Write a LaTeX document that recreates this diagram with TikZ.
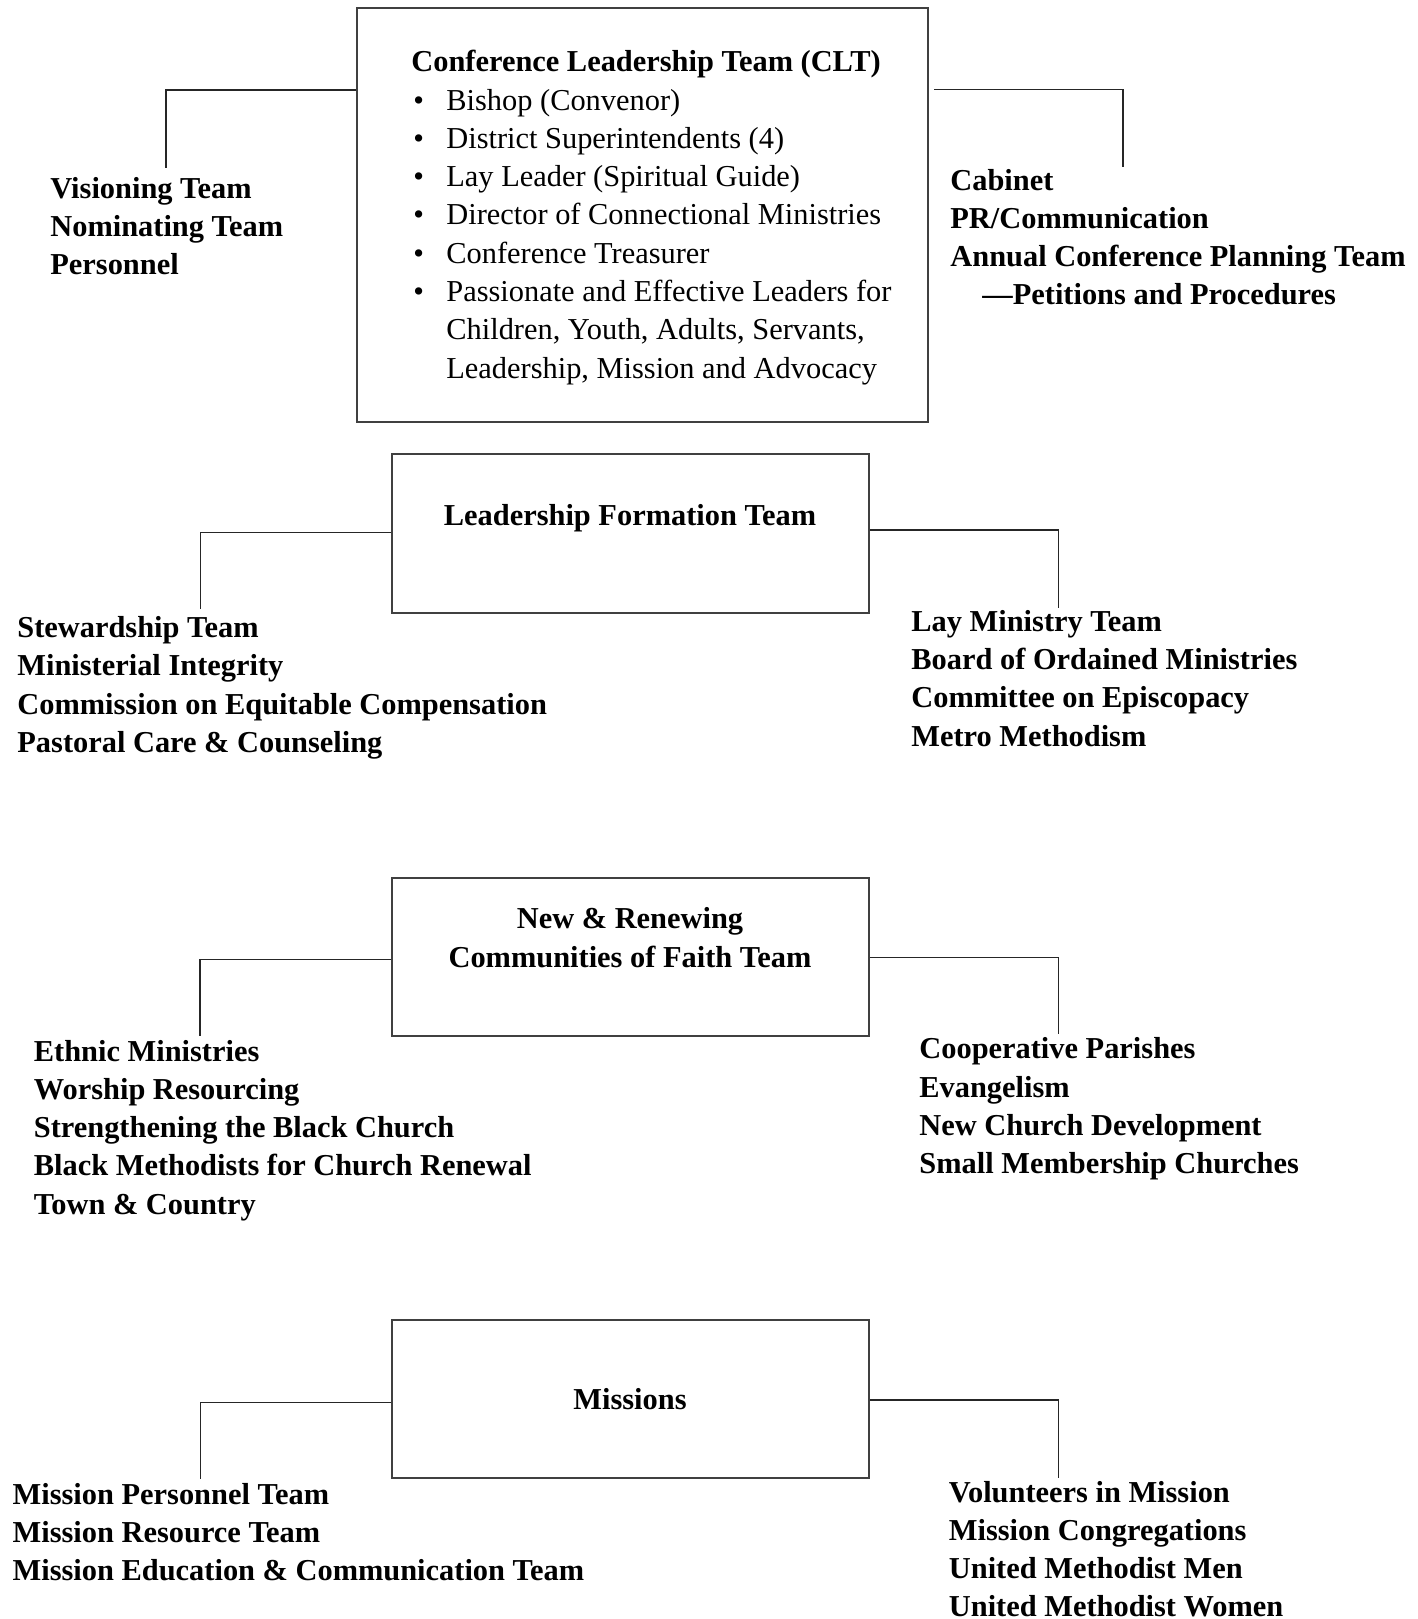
\documentclass[tikz,border=0pt]{standalone}
\usepackage{fontspec}
\setmainfont{Liberation Serif}
\begin{document}
\begin{tikzpicture}[x=0.5pt,y=-0.5pt,
  box/.style={draw=black!75,line width=1pt,inner sep=0pt,anchor=north west,minimum width=238.5pt,minimum height=79.2pt},
  conn/.style={draw=black!85,line width=0.75pt},
  lst/.style={inner sep=0pt,anchor=base west,font=\fontsize{15.2}{19.15}\selectfont\bfseries},
  body/.style={inner sep=0pt,anchor=base west,font=\fontsize{15.2}{19.15}\selectfont},
  ttl/.style={inner sep=0pt,anchor=base,font=\fontsize{15.2}{19.15}\selectfont\bfseries}]
\useasboundingbox[fill=white] (0,0) rectangle (1418,1619);

% ---------- boxes ----------
\node[box,minimum width=285.5pt,minimum height=207.2pt] (b1) at (356,7) {};
\node[box] (b2) at (391,453.3) {};
\node[box] (b3) at (391,876.5) {};
\node[box] (b4) at (391,1319) {};

% ---------- box contents ----------
\node[body] (t1) at (411,71.7) {\begin{tabular}[t]{@{}l@{}l@{}}
\multicolumn{2}{@{}l@{}}{\bfseries Conference Leadership Team (CLT)}\\
\makebox[17.5pt][l]{\hspace{1pt}\textbullet} & Bishop (Convenor)\\
\makebox[17.5pt][l]{\hspace{1pt}\textbullet} & District Superintendents (4)\\
\makebox[17.5pt][l]{\hspace{1pt}\textbullet} & Lay Leader (Spiritual Guide)\\
\makebox[17.5pt][l]{\hspace{1pt}\textbullet} & Director of Connectional Ministries\\
\makebox[17.5pt][l]{\hspace{1pt}\textbullet} & Conference Treasurer\\
\makebox[17.5pt][l]{\hspace{1pt}\textbullet} & Passionate and Effective Leaders for\\
 & Children, Youth, Adults, Servants,\\
 & Leadership, Mission and Advocacy
\end{tabular}};
\node[ttl] (t2) at (630,525) {Leadership Formation Team};
\node[ttl] (t3) at (630,928.7) {\begin{tabular}[t]{@{}c@{}}New \& Renewing\\Communities of Faith Team\end{tabular}};
\node[ttl] (t4) at (630,1409) {Missions};

% ---------- side lists ----------
\node[lst] (l1) at (50,198.3) {\begin{tabular}[t]{@{}l@{}}Visioning Team\\Nominating Team\\Personnel\end{tabular}};
\node[lst] (r1) at (950,190) {\begin{tabular}[t]{@{}l@{}}Cabinet\\PR/Communication\\Annual Conference Planning Team\\\hspace*{16pt}—Petitions and Procedures\end{tabular}};

\node[lst] (l2) at (17,637.5) {\begin{tabular}[t]{@{}l@{}}Stewardship Team\\Ministerial Integrity\\Commission on Equitable Compensation\\Pastoral Care \& Counseling\end{tabular}};
\node[lst] (r2) at (911,631.2) {\begin{tabular}[t]{@{}l@{}}Lay Ministry Team\\Board of Ordained Ministries\\Committee on Episcopacy\\Metro Methodism\end{tabular}};

\node[lst] (l3) at (33.5,1061) {\begin{tabular}[t]{@{}l@{}}Ethnic Ministries\\Worship Resourcing\\Strengthening the Black Church\\Black Methodists for Church Renewal\\Town \& Country\end{tabular}};
\node[lst] (r3) at (919,1058.8) {\begin{tabular}[t]{@{}l@{}}Cooperative Parishes\\Evangelism\\New Church Development\\Small Membership Churches\end{tabular}};

\node[lst] (l4) at (12.3,1504) {\begin{tabular}[t]{@{}l@{}}Mission Personnel Team\\Mission Resource Team\\Mission Education \& Communication Team\end{tabular}};
\node[lst] (r4) at (948.5,1502) {\begin{tabular}[t]{@{}l@{}}Volunteers in Mission\\Mission Congregations\\United Methodist Men\\United Methodist Women\end{tabular}};

% ---------- connectors ----------
\coordinate (k1l) at (166,90);      \coordinate (e1l) at (166,168);
\coordinate (k1r) at (1123,89.3);   \coordinate (e1r) at (1123,167.3);
\coordinate (k2l) at (200.3,532.7); \coordinate (e2l) at (200.3,609.3);
\coordinate (k2r) at (1058.5,530);  \coordinate (e2r) at (1058.5,607.7);
\coordinate (k3l) at (200,959.3);   \coordinate (e3l) at (200,1036);
\coordinate (k3r) at (1058.5,957.7);\coordinate (e3r) at (1058.5,1034.3);
\coordinate (k4l) at (200.3,1402.3);\coordinate (e4l) at (200.3,1479.3);
\coordinate (k4r) at (1058.5,1400); \coordinate (e4r) at (1058.5,1477.7);

\draw[conn] (b1.west |- k1l) -- (k1l) -- (e1l);
\draw[conn] ([xshift=2.5pt]b1.east |- k1r) -- (k1r) -- (e1r);
\draw[conn] (b2.west |- k2l) -- (k2l) -- (e2l);
\draw[conn] (b2.east |- k2r) -- (k2r) -- (e2r);
\draw[conn] (b3.west |- k3l) -- (k3l) -- (e3l);
\draw[conn] (b3.east |- k3r) -- (k3r) -- (e3r);
\draw[conn] (b4.west |- k4l) -- (k4l) -- (e4l);
\draw[conn] (b4.east |- k4r) -- (k4r) -- (e4r);
\end{tikzpicture}
\end{document}
